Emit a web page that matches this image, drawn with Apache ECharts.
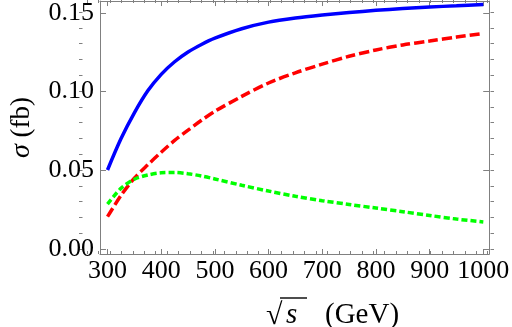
<!DOCTYPE html>
<html>
<head>
<meta charset="utf-8">
<script src="https://cdn.jsdelivr.net/npm/echarts@6/dist/echarts.min.js"></script>
<style>
  html, body { margin: 0; padding: 0; background: #fff; }
  #chart { width: 512px; height: 327px; }
</style>
</head>
<body>
<div id="chart"></div>
<script>
  // sqrt(s) in GeV
  var energy = [300, 325, 350, 375, 400, 425, 450, 475, 500, 550, 600, 650, 700, 750, 800, 850, 900, 950, 1000];
  // cross sections in fb
  var blueSolid = [0.0502, 0.0700, 0.0865, 0.1005, 0.1110, 0.1190, 0.1252, 0.1300, 0.1340, 0.1400, 0.1442, 0.1468, 0.1487, 0.1503, 0.1517, 0.1528, 0.1538, 0.1546, 0.1554];
  var redDashed = [0.0205, 0.0340, 0.0450, 0.0535, 0.0615, 0.0690, 0.0755, 0.0818, 0.0875, 0.0970, 0.1055, 0.1120, 0.1175, 0.1225, 0.1265, 0.1297, 0.1322, 0.1347, 0.1370];
  var greenDotted = [0.0285, 0.0385, 0.0443, 0.0470, 0.0484, 0.0486, 0.0478, 0.0464, 0.0445, 0.0405, 0.0368, 0.0335, 0.0307, 0.0283, 0.0260, 0.0237, 0.0213, 0.0190, 0.0172];

  var xMajor = [300, 400, 500, 600, 700, 800, 900, 1000];
  var xMinor = [];
  for (var v = 300; v <= 1000; v += 20) xMinor.push(v);
  var yMajor = [0, 0.05, 0.10, 0.15];
  var yMinor = [];
  for (var k = 0; k <= 15; k++) yMinor.push(k / 100);

  function pairs(ys) {
    return energy.map(function (e, i) { return [e, ys[i]]; });
  }

  var frame = '#808080';
  var font = 'Liberation Serif';

  // grid 0 carries the frame, major ticks and labels, grid 1 only the minor ticks
  function xAx(grid, pos, ticks, len) {
    var main = grid === 0;
    return {
      type: 'value', gridIndex: grid, position: pos, min: 286, max: 1011,
      axisLine: { show: main, onZero: false, lineStyle: { color: frame, width: 1 } },
      axisTick: { show: true, inside: true, length: len, customValues: ticks, lineStyle: { color: frame } },
      axisLabel: {
        show: main && pos === 'bottom', customValues: xMajor, color: '#000', fontFamily: font, fontSize: 26, margin: 4,
        formatter: function (val) { return String(val); }
      },
      splitLine: { show: false }
    };
  }
  function yAx(grid, pos, ticks, len) {
    var main = grid === 0;
    return {
      type: 'value', gridIndex: grid, position: pos, min: -0.0032, max: 0.1576,
      axisLine: { show: main, onZero: false, lineStyle: { color: frame, width: 1 } },
      axisTick: { show: true, inside: true, length: len, customValues: ticks, lineStyle: { color: frame } },
      axisLabel: {
        show: main && pos === 'left', customValues: yMajor, color: '#000', fontFamily: font, fontSize: 26, margin: 6,
        formatter: function (val) { return val.toFixed(2); }
      },
      splitLine: { show: false }
    };
  }

  var xAxes = [xAx(0, 'bottom', xMajor, 5), xAx(0, 'top', xMajor, 5), xAx(1, 'bottom', xMinor, 3), xAx(1, 'top', xMinor, 3)];
  var yAxes = [yAx(0, 'left', yMajor, 6), yAx(0, 'right', yMajor, 6), yAx(1, 'left', yMinor, 3.5), yAx(1, 'right', yMinor, 3.5)];

  yAxes[0].name = '{g|σ}{n| (fb)}';
  yAxes[0].nameLocation = 'middle';
  yAxes[0].nameGap = 64;
  yAxes[0].nameTextStyle = {
    rich: {
      g: { fontFamily: font, fontSize: 28, fontStyle: 'italic', color: '#000' },
      n: { fontFamily: font, fontSize: 27, color: '#000' }
    }
  };

  var titleFont = '29px "Liberation Serif"';
  var chart = echarts.init(document.getElementById('chart'));
  chart.setOption({
    animation: false,
    grid: [
      { left: 79, right: 18, top: 0, bottom: 73 },
      { left: 79, right: 18, top: 0, bottom: 73 }
    ],
    xAxis: xAxes,
    yAxis: yAxes,
    graphic: [
      { type: 'text', style: { x: 266, y: 316, text: '√', font: '30px "Liberation Serif"', fill: '#000', verticalAlign: 'middle' } },
      { type: 'text', style: { x: 286, y: 315, text: 's', font: 'italic ' + titleFont, fill: '#000', verticalAlign: 'middle' } },
      { type: 'line', shape: { x1: 280, y1: 298, x2: 307, y2: 298 }, style: { stroke: '#000', lineWidth: 1.4 } },
      { type: 'text', style: { x: 325, y: 315, text: '(GeV)', font: titleFont, fill: '#000', verticalAlign: 'middle' } }
    ],
    series: [
      { type: 'line', data: pairs(blueSolid), showSymbol: false, smooth: 0.3,
        lineStyle: { color: '#0000ff', width: 3.5 } },
      { type: 'line', data: pairs(redDashed), showSymbol: false, smooth: 0.3,
        lineStyle: { color: '#ff0000', width: 3.5, type: [10, 4] } },
      { type: 'line', data: pairs(greenDotted), showSymbol: false, smooth: 0.3,
        lineStyle: { color: '#00ff00', width: 3.5, type: [6, 3] } }
    ]
  });
</script>
</body>
</html>
